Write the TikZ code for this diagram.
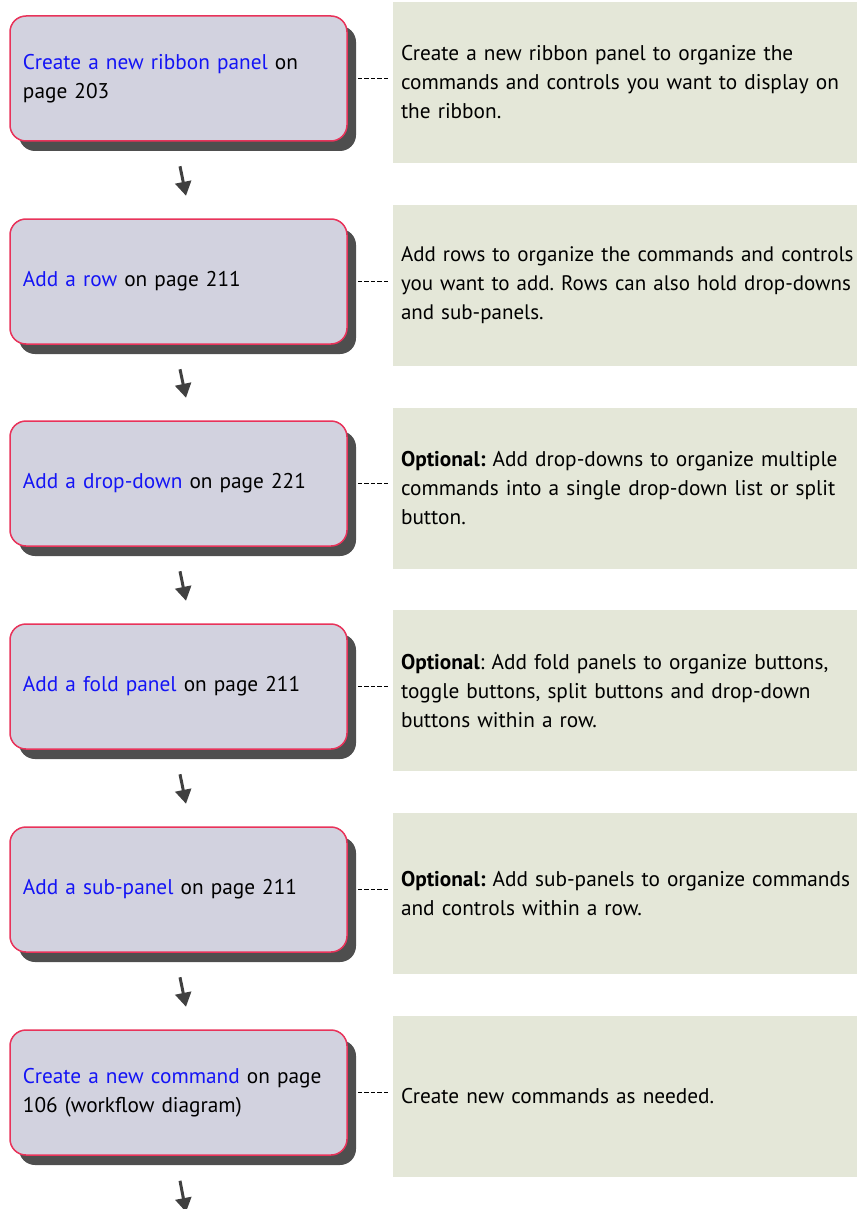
\documentclass[tikz,border=0pt]{standalone}
\usepackage{fontspec}
\setmainfont{PT Sans}[WordSpace=0.75]
\usetikzlibrary{shadows,arrows.meta}
\definecolor{lfill}{RGB}{210,210,223}
\definecolor{bord}{RGB}{232,51,90}
\definecolor{shad}{RGB}{78,78,78}
\definecolor{rfill}{RGB}{228,231,216}
\definecolor{lnk}{RGB}{20,20,245}
\definecolor{arrc}{RGB}{64,64,64}
\newcommand\lk[1]{\textcolor{lnk}{#1}}
\newcommand\fs{\fontsize{21.3}{29}\selectfont\frenchspacing}
\newcommand\fss{\fontsize{21}{29}\selectfont\frenchspacing}
\begin{document}
\begin{tikzpicture}[x=1pt,y=-1pt,
  stepbox/.style={draw=bord, line width=1.5pt, fill=lfill, rounded corners=16pt,
    minimum width=337pt, minimum height=125pt, text width=311pt, align=left,
    inner xsep=13pt, font=\fs,
    drop shadow={shadow xshift=9pt, shadow yshift=-10pt, fill=shad, opacity=1}},
  notebox/.style={fill=rfill, minimum width=464pt, minimum height=161pt,
    text width=448pt, inner xsep=8pt, align=left, font=\fs},
  dashcon/.style={draw=black, line width=1.1pt, dash pattern=on 4.5pt off 2pt},
  arr/.style={draw=arrc, line width=3pt, -{Triangle[width=16pt,length=14pt]}}]
\useasboundingbox (0,0) rectangle (857,1209);
% left boxes
\node[stepbox] (b0) at (178.5,78.5) {\mbox{\lk{Create a new ribbon panel} on}\\page 203};
\node[stepbox] (b1) at (178.5,281.5) {\lk{Add a row} on page 211};
\node[stepbox] (b2) at (178.5,483.5) {\lk{Add a drop-down} on page 221};
\node[stepbox] (b3) at (178.5,686.5) {\lk{Add a fold panel} on page 211};
\node[stepbox] (b4) at (178.5,889.5) {\lk{Add a sub-panel} on page 211};
\node[stepbox] (b5) at (178.5,1092.5) {\mbox{\lk{Create a new command} on page}\\106 (workflow diagram)};
% right boxes
\node[notebox] (n0) at (625,82.5) {\mbox{Create a new ribbon panel to organize the}\\\mbox{commands and controls you want to display on}\\the ribbon.};
\node[notebox, font=\fss] (n1) at (625,285.3) {\mbox{Add rows to organize the commands and controls}\\\mbox{you want to add. Rows can also hold drop-downs}\\and sub-panels.};
\node[notebox] (n2) at (625,488.1) {\mbox{\textbf{Optional:} Add drop-downs to organize multiple}\\\mbox{commands into a single drop-down list or split}\\button.};
\node[notebox] (n3) at (625,690.9) {\mbox{\textbf{Optional}: Add fold panels to organize buttons,}\\\mbox{toggle buttons, split buttons and drop-down}\\buttons within a row.};
\node[notebox] (n4) at (625,893.7) {\mbox{\textbf{Optional:} Add sub-panels to organize commands}\\and controls within a row.};
\node[notebox] (n5) at (625,1096.5) {Create new commands as needed.};
% dashed connectors
\foreach \i in {0,...,5}{
  \draw[dashcon] ([xshift=10pt]b\i.east) -- ([xshift=-3pt]b\i.east -| n\i.west);
}
% arrows
\foreach \i/\j in {0/1,1/2,2/3,3/4,4/5}{
  \draw[arr] ([shift={(1.5,24.5)}]b\i.south) -- ([shift={(7.5,-22.5)}]b\j.north);
}
\coordinate (endpt) at (186,1212);
\draw[arr] ([shift={(1.5,25)}]b5.south) -- (endpt);
\end{tikzpicture}
\end{document}
